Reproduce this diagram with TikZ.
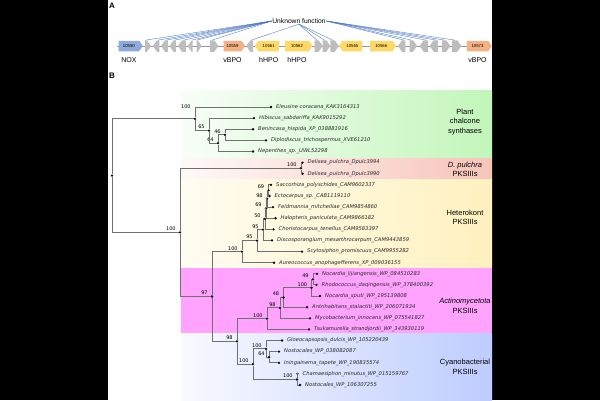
\documentclass[tikz,border=0pt]{standalone}
\usepackage{fontspec}
\setmainfont{Liberation Sans}
\newfontfamily\dv{DejaVu Sans}
\usetikzlibrary{shapes.symbols}
\definecolor{noxc}{RGB}{142,169,219}
\definecolor{vbpoc}{RGB}{244,177,131}
\definecolor{hhpoc}{RGB}{255,217,102}
\definecolor{grayg}{RGB}{189,189,189}
\definecolor{bline}{RGB}{68,114,196}
\definecolor{grn}{RGB}{194,246,186}
\definecolor{pnk}{RGB}{248,196,186}
\definecolor{ylw}{RGB}{255,241,190}
\definecolor{mag}{RGB}{255,163,255}
\definecolor{blu}{RGB}{190,204,255}
\definecolor{brc}{RGB}{112,112,112}
\begin{document}
\begin{tikzpicture}[x=1pt,y=-1pt,
 gene/.style={signal, draw=none, inner sep=0pt, minimum height=10.5pt, signal pointer angle=110, font=\fontsize{4.3}{5}\selectfont},
 gR/.style={gene, signal to=east},
 gL/.style={gene, signal to=west},
 gg/.style={fill=grayg, minimum height=11.5pt},
 gl/.style={font=\fontsize{7}{8}\selectfont, inner sep=0pt, yshift=-6pt},
 uline/.style={draw=bline, line width=0.35pt},
 backbone/.style={draw=grayg!80!black, line width=0.8pt},
 br/.style={draw=brc, line width=0.9pt},
 dot/.style={circle, fill=black, inner sep=0pt, minimum size=2.6pt},
 lf/.style={font=\dv\itshape\fontsize{5.2}{6}\selectfont, inner sep=0pt, xshift=3.5pt, text=black!85},
 bs/.style={font=\dv\fontsize{5}{6}\selectfont, inner sep=0.3pt, xshift=-2.8pt},
 clade/.style={font=\fontsize{7.5}{9.5}\selectfont, align=center, inner sep=0pt},
]
\useasboundingbox (0,0) rectangle (600,400);
\fill[white] (0,0) rectangle (600,400);
\fill[black] (0,0) rectangle (108,400);
\fill[black] (492,0) rectangle (600,400);

% bands
\shade[left color=grn!10, right color=grn] (181,90) rectangle (492,158);
\shade[left color=pnk!10, right color=pnk] (181,158) rectangle (492,179);
\shade[left color=ylw!20, right color=ylw] (181,179) rectangle (492,268);
\fill[mag] (181,268) rectangle (492,333);
\shade[left color=blu!10, right color=blu] (181,333) rectangle (492,400);

% panel letters
\node[font=\bfseries\fontsize{8}{9}\selectfont] (pa) at (112,6) {A};
\node[font=\bfseries\fontsize{8}{9}\selectfont] (pb) at (112,76) {B};

% gene cluster
\draw[backbone] (117,46) -- (490,46);
\node[gR, fill=noxc, minimum width=24.3pt, label={[gl]below:NOX}] (g10550) at (128.85,46) {10550};
\node[gR, gg, minimum width=6pt] (g1) at (146,46) {};
\node[gL, gg, minimum width=6.5pt] (g2) at (158.25,46) {};
\node[gL, gg, minimum width=7pt] (g3) at (166.5,46) {};
\node[gL, gg, minimum width=6.5pt] (g4) at (174.75,46) {};
\node[gL, gg, minimum width=8pt] (g5) at (184,46) {};
\node[gL, gg, minimum width=5pt] (g6) at (192.2,46) {};
\node[gR, gg, minimum width=5pt] (g7) at (197.2,46) {};
\node[gR, gg, minimum width=8.3pt] (g8) at (212.15,46) {};
\node[gR, fill=vbpoc, minimum width=21.6pt, label={[gl]below:vBPO}] (g10559) at (232.5,46) {10559};
\node[gL, gg, minimum width=6.7pt] (g9) at (251.65,46) {};
\node[gL, fill=hhpoc, minimum width=24pt, label={[gl]below:hHPO}] (g10561) at (268.7,46) {10561};
\node[gR, fill=hhpoc, minimum width=27.4pt, label={[gl]below:hHPO}] (g10562) at (297,46) {10562};
\node[gR, gg, minimum width=8pt] (g10) at (316.7,46) {};
\node[gR, gg, minimum width=7.6pt] (g11) at (324.5,46) {};
\node[gR, gg, minimum width=8.4pt] (g12) at (332.5,46) {};
\node[gL, fill=hhpoc, minimum width=23.3pt] (g10565) at (352.35,46) {10565};
\node[gR, fill=hhpoc, minimum width=26pt] (g10566) at (381.3,46) {10566};
\node[gL, gg, minimum width=7.5pt] (g13) at (403.75,46) {};
\node[gR, gg, minimum width=7.5pt] (g14) at (411.25,46) {};
\node[gL, gg, minimum width=8.3pt] (g15) at (425.85,46) {};
\node[gL, gg, minimum width=8.3pt] (g16) at (435.85,46) {};
\node[gR, gg, minimum width=8.3pt] (g17) at (444.15,46) {};
\node[gR, gg, minimum width=9.3pt] (g18) at (454.65,46) {};
\node[gR, fill=vbpoc, minimum width=25pt, label={[gl]below:vBPO}] (g10573) at (477.5,46) {10573};

\node[font=\fontsize{6.7}{8}\selectfont, inner sep=0.5pt] (uf) at (299,21) {Unknown function};
\foreach \g in {g1,g2,g3,g4,g5,g6,g7,g8}{\draw[uline] (uf.west) -- (\g.north);}
\foreach \g in {g9,g10,g11,g12}{\draw[uline] (uf.south) -- (\g.north);}
\foreach \g in {g13,g14,g15,g16,g17,g18}{\draw[uline] (uf.east) -- (\g.north);}

% clade labels
\node[clade] (cp) at (465,122) {Plant\\chalcone\\synthases};
\node[clade] (cd) at (465,169.5) {\textit{D. pulchra}\\PKSIIIs};
\node[clade] (ch) at (465,217.5) {Heterokont\\PKSIIIs};
\node[clade] (ca) at (465,306) {\textit{Actinomycetota}\\PKSIIIs};
\node[clade] (cc) at (465,367) {Cyanobacterial\\PKSIIIs};

% internal nodes
\node[dot] (root) at (112,175.55) {};
\node[dot,label={[bs,yshift=8.5pt]above left:100}] (np) at (195,118.8) {};
\node[dot,label={[bs]above left:65}] (n65) at (209,130.6) {};
\node[dot,label={[bs]above left:64}] (n64) at (218,143.15) {};
\node[dot,label={[bs]above left:46}] (n46) at (225,134.8) {};
\node[dot,label={[bs]above left:100}] (n100) at (180,232.3) {};
\node[dot,label={[bs]above left:100}] (nd) at (301,168.15) {};
\node[dot,label={[bs]above left:97}] (n97) at (212,296.5) {};
\node[dot,label={[bs]above left:100}] (h7) at (242,251.65) {};
\node[dot,label={[bs]above left:95}] (h6) at (257,240.6) {};
\node[dot,label={[bs]above left:95}] (h5) at (263,229.65) {};
\node[dot,label={[bs]above left:50}] (h4) at (265,218.9) {};
\node[dot,label={[bs]above left:69}] (h3) at (266,208.5) {};
\node[dot,label={[bs]above left:98}] (h2) at (267,198.75) {};
\node[dot,label={[bs]above left:69}] (h1) at (268.5,190.4) {};
\node[dot,label={[bs]above left:98}] (nac) at (237,341.4) {};
\node[dot,label={[bs]above left:100}] (a5) at (267,318.65) {};
\node[dot,label={[bs]above left:98}] (a4) at (280,307.9) {};
\node[dot,label={[bs]above left:48}] (a3) at (283.5,297.45) {};
\node[dot,label={[bs]above left:100}] (a2) at (311.5,287.7) {};
\node[dot,label={[bs]above left:49}] (a1) at (313,279.35) {};
\node[dot,label={[bs]above left:100}] (cr) at (253,364.15) {};
\node[dot,label={[bs]above left:100}] (cx) at (266,348.85) {};
\node[dot,label={[bs]above left:64}] (c64) at (269,357.2) {};
\node[dot,label={[bs]above left:100}] (cy) at (297,379.45) {};

% leaves
\node[dot,label={[lf]right:Eleusine coracana\_KAK3164313}] (l1) at (271,107) {};
\node[dot,label={[lf]right:Hibiscus\_sabdariffa\_KAK9015292}] (l2) at (254,118.1) {};
\node[dot,label={[lf]right:Benincasa\_hispida\_XP\_038881916}] (l3) at (253,129.2) {};
\node[dot,label={[lf]right:Diplodiscus\_trichospermus\_XVE61210}] (l4) at (266,140.4) {};
\node[dot,label={[lf]right:Nepenthes\_sp.\_UWL52298}] (l5) at (253,151.5) {};
\node[dot,label={[lf]right:Delisea\_pulchra\_Dpulc3994}] (l6) at (302.5,162.6) {};
\node[dot,label={[lf]right:Delisea\_pulchra\_Dpulc3990}] (l7) at (302.5,173.7) {};
\node[dot,label={[lf]right:Saccorhiza\_polyschides\_CAM9602337}] (l8) at (271,184.8) {};
\node[dot,label={[lf]right:Ectocarpus\_sp.\_CAB1119110}] (l9) at (269.5,196) {};
\node[dot,label={[lf]right:Feldmannia\_mitchelliae\_CAM9854860}] (l10) at (273,207.1) {};
\node[dot,label={[lf]right:Halopteris\_paniculata\_CAM9866182}] (l11) at (275.5,218.2) {};
\node[dot,label={[lf]right:Choristocarpus\_tenellus\_CAM9583397}] (l12) at (273.5,229.3) {};
\node[dot,label={[lf]right:Discosporangium\_mesarthrocarpum\_CAM9443859}] (l13) at (272,240.4) {};
\node[dot,label={[lf]right:Scytosiphon\_promiscuus\_CAM9955282}] (l14) at (302,251.6) {};
\node[dot,label={[lf]right:Aureococcus\_anophagefferens\_XP\_009036155}] (l15) at (274,262.7) {};
\node[dot,label={[lf]right:Nocardia\_lijiangensis\_WP\_084510283}] (l16) at (317,273.8) {};
\node[dot,label={[lf]right:Rhodococcus\_daqingensis\_WP\_378400392}] (l17) at (316.5,284.9) {};
\node[dot,label={[lf]right:Nocardia\_sputi\_WP\_195139808}] (l18) at (320,296) {};
\node[dot,label={[lf]right:Antrihabitans\_stalactiti\_WP\_206071934}] (l19) at (307,307.2) {};
\node[dot,label={[lf]right:Mycobacterium\_innocens\_WP\_075541827}] (l20) at (310,318.3) {};
\node[dot,label={[lf]right:Tsukamurella\_strandjordii\_WP\_343930119}] (l21) at (309,329.4) {};
\node[dot,label={[lf]right:Gloeocapsopsis\_dulcis\_WP\_105220439}] (l22) at (282,340.5) {};
\node[dot,label={[lf]right:Nostocales\_WP\_038082087}] (l23) at (279,351.6) {};
\node[dot,label={[lf]right:Iningainema\_tapete\_WP\_190835574}] (l24) at (279,362.8) {};
\node[dot,label={[lf]right:Chamaesiphon\_minutus\_WP\_015159767}] (l25) at (297.5,373.9) {};
\node[dot,label={[lf]right:Nostocales\_WP\_106307255}] (l26) at (300,385) {};

% branches
\draw[br] (root) |- (np);  \draw[br] (root) |- (n100);
\draw[br] (np) |- (l1);    \draw[br] (np) |- (n65);
\draw[br] (n65) |- (l2);   \draw[br] (n65) |- (n64);
\draw[br] (n64) |- (n46);  \draw[br] (n64) |- (l5);
\draw[br] (n46) |- (l3);   \draw[br] (n46) |- (l4);
\draw[br] (n100) |- (nd);  \draw[br] (n100) |- (n97);
\draw[br] (nd) |- (l6);    \draw[br] (nd) |- (l7);
\draw[br] (n97) |- (h7);   \draw[br] (n97) |- (nac);
\draw[br] (h7) |- (h6);    \draw[br] (h7) |- (l15);
\draw[br] (h6) |- (h5);    \draw[br] (h6) |- (l14);
\draw[br] (h5) |- (h4);    \draw[br] (h5) |- (l13);
\draw[br] (h4) |- (h3);    \draw[br] (h4) |- (l12);
\draw[br] (h3) |- (h2);    \draw[br] (h3) |- (l11);
\draw[br] (h2) |- (h1);    \draw[br] (h2) |- (l10);
\draw[br] (h1) |- (l8);    \draw[br] (h1) |- (l9);
\draw[br] (nac) |- (a5);   \draw[br] (nac) |- (cr);
\draw[br] (a5) |- (a4);    \draw[br] (a5) |- (l21);
\draw[br] (a4) |- (a3);    \draw[br] (a4) |- (l20);
\draw[br] (a3) |- (a2);    \draw[br] (a3) |- (l19);
\draw[br] (a2) |- (a1);    \draw[br] (a2) |- (l18);
\draw[br] (a1) |- (l16);   \draw[br] (a1) |- (l17);
\draw[br] (cr) |- (cx);    \draw[br] (cr) |- (cy);
\draw[br] (cx) |- (l22);   \draw[br] (cx) |- (c64);
\draw[br] (c64) |- (l23);  \draw[br] (c64) |- (l24);
\draw[br] (cy) |- (l25);   \draw[br] (cy) |- (l26);
\end{tikzpicture}
\end{document}
